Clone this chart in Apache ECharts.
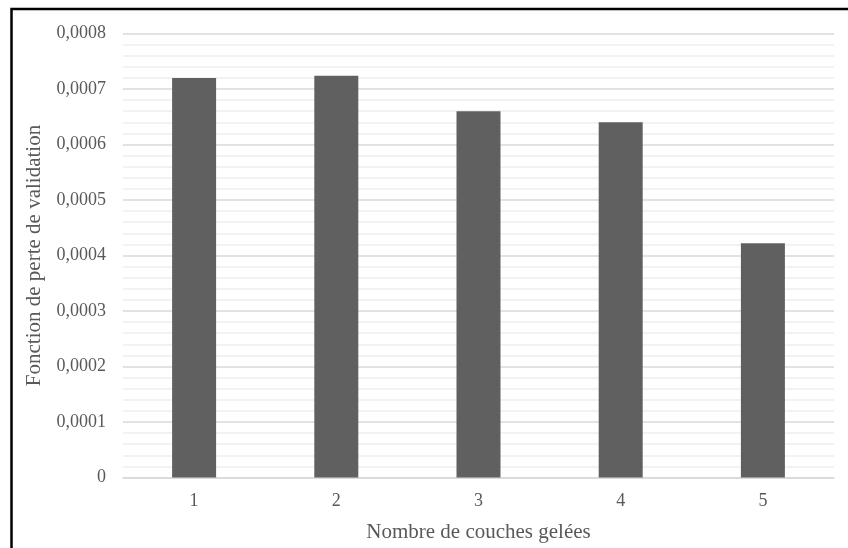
<!DOCTYPE html>
<html>
<head>
<meta charset="utf-8">
<script src="https://cdn.jsdelivr.net/npm/echarts@6/dist/echarts.min.js"></script>
<style>
  html, body { margin: 0; padding: 0; background: #fff; }
  #chart { width: 848px; height: 548px; }
</style>
</head>
<body>
<div id="chart"></div>
<script>
// Validation loss for each number of frozen layers
const categories = ['1', '2', '3', '4', '5'];
const lossValues = [0.00072, 0.000724, 0.00066, 0.00064, 0.000422];
const yTicks = { min: 0, max: 0.0008, interval: 0.0001 };

const textColor = '#595959';
const fontFamily = '"Liberation Serif", "Times New Roman", serif';

const chart = echarts.init(document.getElementById('chart'), null, { renderer: 'canvas' });

chart.setOption({
  backgroundColor: '#ffffff',
  animation: false,
  graphic: [{
    type: 'rect',
    shape: { x: 11.5, y: 9, width: 900, height: 600 },
    style: { fill: 'none', stroke: '#000', lineWidth: 2.5 },
    silent: true
  }],
  grid: { left: 123, right: 14, top: 33.5, bottom: 70.5 },
  xAxis: {
    type: 'category',
    data: categories,
    name: 'Nombre de couches gelées',
    nameLocation: 'middle',
    nameGap: 44,
    nameTextStyle: { color: textColor, fontFamily, fontSize: 21 },
    axisLine: { show: true, lineStyle: { color: '#d9d9d9', width: 1.5 } },
    axisTick: { show: false },
    axisLabel: { color: textColor, fontFamily, fontSize: 18, margin: 15 }
  },
  yAxis: {
    type: 'value',
    min: yTicks.min,
    max: yTicks.max,
    interval: yTicks.interval,
    name: 'Fonction de perte de validation',
    nameLocation: 'middle',
    nameGap: 78,
    nameTextStyle: { color: textColor, fontFamily, fontSize: 21 },
    axisLine: { show: false },
    axisTick: { show: false },
    axisLabel: {
      color: textColor, fontFamily, fontSize: 18, margin: 17,
      formatter: v => v === 0 ? '0' : v.toFixed(4).replace('.', ',')
    },
    splitLine: { show: true, lineStyle: { color: '#d9d9d9', width: 1.5 } },
    minorTick: { show: false, splitNumber: 5 },
    minorSplitLine: { show: true, lineStyle: { color: '#eeeeee', width: 1.5 } }
  },
  series: [{
    type: 'bar',
    data: lossValues,
    barWidth: 44,
    itemStyle: { color: '#606060' }
  }]
});
</script>
</body>
</html>
